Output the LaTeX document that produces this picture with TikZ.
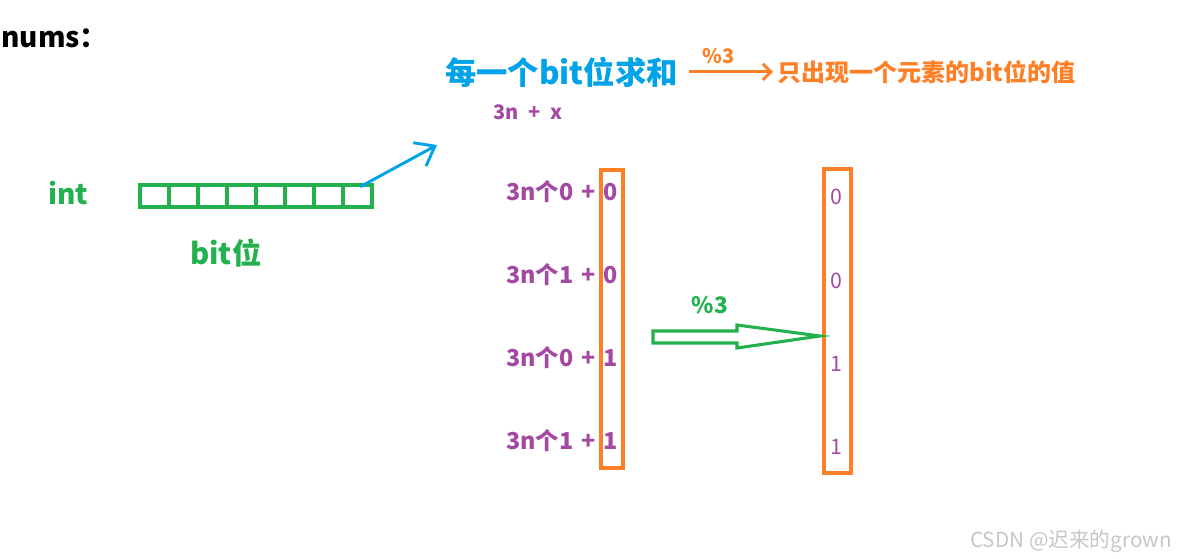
\documentclass[tikz,border=0pt]{standalone}
\usepackage{fontspec}
\setmainfont{Noto Sans CJK SC}
\usetikzlibrary{arrows.meta}
\definecolor{paintblue}{RGB}{0,162,232}
\definecolor{paintorange}{RGB}{255,127,39}
\definecolor{paintpurple}{RGB}{163,73,164}
\definecolor{paintgreen}{RGB}{34,177,76}
\newcommand{\fs}[1]{\fontsize{#1}{#1}\selectfont}

\begin{document}
\begin{tikzpicture}[x=0.75pt,y=-0.75pt,
  every node/.style={inner sep=0pt},
  bitcell/.style={draw=paintgreen,line width=2.3pt,minimum width=21.75pt,minimum height=16.5pt},
  colbox/.style={draw=paintorange,line width=2.3pt},
  rowtxt/.style={text=paintpurple,font=\bfseries\fs{17.5},anchor=base east},
  rowbit/.style={text=paintpurple,font=\bfseries\fs{17.5},anchor=base},
  modbit/.style={text=paintpurple,font=\fs{16},anchor=base}]
  \useasboundingbox (0,0) rectangle (1182,558);

  % title and the int
  \node[anchor=base west,font=\bfseries\fs{21}] (nums) at (1,47) {nums：};
  \node[anchor=base west,text=paintgreen,font=\bfseries\fs{21}] (int) at (48,204) {int};
  \foreach \i in {0,...,7}
    \node[bitcell] (b\i) at (154.5+29*\i,196) {};
  \node[anchor=base west,text=paintgreen,font=\bfseries\fs{22}] (bitw) at (190,264) {bit位};

  % sum of each bit
  \node[anchor=base west,text=paintblue,font=\bfseries\fs{23.5}] (sum) at (445,84) {每一个bit位求和};
  \node[anchor=base west,text=paintorange,font=\bfseries\fs{18}] (res) at (777,81) {只出现一个元素的bit位的值};
  \node[anchor=base west,text=paintpurple,font=\bfseries\fs{15}] (form) at (493,119) {3n\enspace+\enspace x};
  \coordinate (tipb) at (437,145);
  \draw[paintblue,line width=2.2pt,-{Straight Barb[length=13pt,width=20pt]}]
    ([xshift=2pt,yshift=-2.5pt]b7.north) -- (tipb);
  \draw[paintorange,line width=2.3pt,-{Straight Barb[length=6pt,width=12pt]}]
    ([xshift=8pt]sum.east) -- ([xshift=-3pt]sum.east -| res.west)
    node[pos=0.35,above=5pt,text=paintorange,font=\bfseries\fs{15}] (mod1) {\%3};

  % the four cases
  \draw[colbox] (601,170) rectangle (623,468);
  \draw[colbox] (824,169) rectangle (851,473);
  \foreach \y/\k/\d [count=\i] in {200/0/0,283/1/0,366/0/1,449/1/1} {
    \node[rowtxt] (row\i) at (596,\y) {3n个\k\hspace{0.35em}+};
    \node[rowbit] (bit\i) at (611,\y) {\d};
  }
  \foreach \y/\d [count=\i] in {204/0,288/0,371/1,454/1}
    \node[modbit] (m\i) at (836,\y) {\d};

  % %3
  \draw[paintgreen,line width=2.3pt] (653,331) -- (737,331) -- (737,325) -- (820,336)
    -- (737,348) -- (737,343) -- (653,343) -- cycle;
  \node[text=paintgreen,font=\bfseries\fs{17}] (mod2) at (710,305) {\%3};

  \node[anchor=base west,text=gray!45,font=\fs{15.5}] (mark) at (970,547) {CSDN @迟来的grown};
\end{tikzpicture}
\end{document}
